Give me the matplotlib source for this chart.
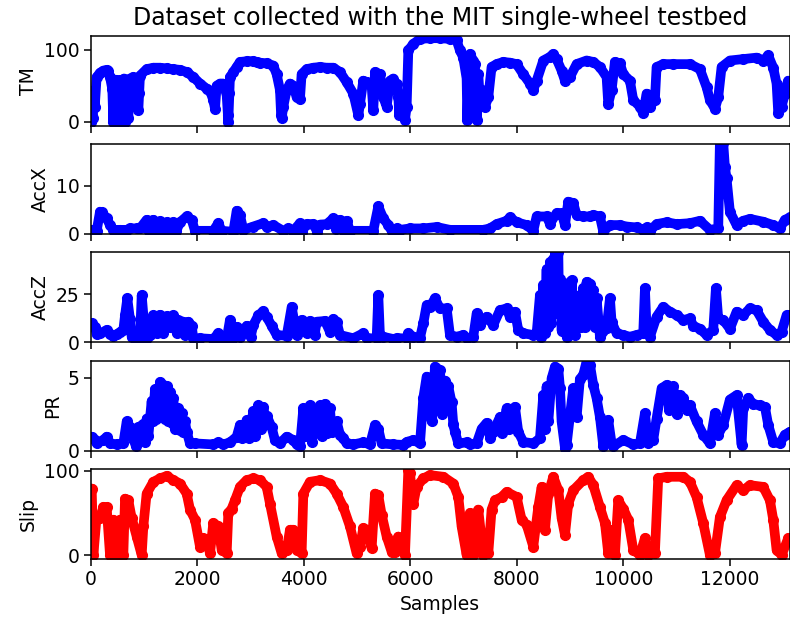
import matplotlib
matplotlib.use("Agg")
from matplotlib import pyplot as plt

tm_x = [0, 13, 30, 44, 70, 106, 169, 232, 294, 326, 357, 400, 419, 440, 470, 482, 510, 545, 576, 600, 620, 639,
        670, 700, 732, 795, 840, 858, 889, 905, 920, 1045, 1171, 1296, 1421, 1546, 1671, 1797, 1922, 2047, 2172,
        2235, 2297, 2329, 2360, 2423, 2485, 2548, 2570, 2579, 2600, 2610, 2673, 2736, 2798, 2923, 3049, 3111,
        3174, 3299, 3424, 3487, 3549, 3570, 3581, 3612, 3675, 3737, 3800, 3862, 3925, 3956, 4050, 4175, 4301,
        4426, 4551, 4676, 4801, 4927, 5021, 5052, 5114, 5177, 5271, 5302, 5334, 5427, 5490, 5553, 5615, 5678,
        5709, 5740, 5772, 5790, 5803, 5834, 5866, 5897, 5928, 5960, 6053, 6179, 6366, 6554, 6742, 6867, 6930,
        6992, 7055, 7068, 7090, 7118, 7180, 7211, 7243, 7274, 7305, 7337, 7399, 7462, 7524, 7618, 7743, 7869,
        7994, 8119, 8244, 8307, 8370, 8495, 8620, 8683, 8745, 8839, 8902, 8996, 9121, 9308, 9434, 9559, 9684,
        9715, 9778, 9840, 9934, 9997, 10122, 10185, 10310, 10372, 10435, 10498, 10591, 10623, 10748, 10936,
        11249, 11437, 11562, 11625, 11719, 11781, 11844, 12000, 12251, 12501, 12626, 12720, 12814, 12877,
        12908, 12971, 13033, 13096, 13127]
tm_y = [0, 40, 5, 43, 20, 62, 68, 71, 72, 70, 62, 45, 0, 55, 58, 0, 55, 58, 0, 50, 60, 0,
        58, 5, 60, 62, 55, 30, 16, 40, 64, 73, 75, 75, 74, 73, 72, 69, 62, 53, 46,
        43, 30, 18, 50, 53, 53, 37, 10, 0, 40, 62, 69, 76, 83, 84, 84, 83,
        82, 81, 78, 66, 44, 10, 5, 21, 44, 53, 50, 34, 32, 66, 73, 75, 76,
        75, 75, 69, 55, 39, 9, 25, 57, 55, 50, 16, 69, 66, 34, 21, 57, 60,
        45, 53, 34, 10, 30, 20, 14, 3, 20, 99, 108, 115, 116, 116, 115, 113, 99,
        89, 60, 2, 60, 94, 85, 80, 2, 66, 30, 44, 21, 34, 76, 80, 83, 82,
        80, 66, 53, 44, 57, 85, 90, 94, 87, 71, 57, 62, 80, 85, 83, 76, 62,
        25, 44, 83, 81, 66, 57, 30, 21, 12, 39, 21, 30, 76, 80, 80,
        80, 73, 48, 30, 18, 34, 76, 85, 87, 89, 85, 92, 75, 53,
        12, 21, 39, 57, 55]

accx_x = [13, 106, 169, 200, 232, 294, 357, 419, 545, 670, 732, 858, 920, 1045, 1080, 1171, 1200, 1296, 1340,
          1421, 1460, 1546, 1600, 1671, 1797, 1891, 1953, 2297, 2391, 2454, 2673, 2736, 2798, 2861, 3049, 3236,
          3300, 3424, 3612, 3706, 3800, 3925, 3960, 4050, 4175, 4250, 4301, 4426, 4551, 4600, 4676, 4740, 4801,
          4864, 5302, 5396, 5490, 5584, 5646, 5740, 5803, 5991, 6241, 6492, 6742, 7368, 7493, 7618, 7806, 7869,
          7994, 8182, 8307, 8370, 8557, 8620, 8745, 8839, 8902, 8964, 9058, 9121, 9246, 9371, 9434, 9559, 9622,
          9747, 9934, 10059, 10247, 10372, 10435, 10498, 10623, 10811, 10999, 11249, 11437, 11625, 11781, 11812,
          11875, 11906, 11937, 12000, 12126, 12251, 12376, 12626, 12814, 12939, 13033, 13127]
accx_y = [0.8, 0.6, 4.6, 4.5, 4.0, 3.2, 1.8, 0.8, 0.8, 0.8, 1.1, 1.1, 1.1, 2.9, 0.6, 2.9, 0.8, 2.6, 0.5,
          2.4, 0.8, 2.4, 0.5, 2.4, 3.6, 2.9, 0.6, 0.6, 2.2, 0.6, 0.4, 4.8, 3.9, 0.8, 1.5, 2.2,
          1.4, 1.8, 0.6, 1.1, 0.6, 2.2, 0.4, 2.0, 2.0, 0.4, 1.9, 2.0, 3.2, 1.0, 2.9, 0.8, 2.7,
          0.6, 0.6, 5.7, 3.2, 1.8, 0.6, 1.1, 0.8, 1.1, 1.1, 1.4, 0.8, 0.8, 1.1, 2.0, 2.7, 3.4,
          2.4, 1.8, 0.6, 3.6, 3.6, 2.1, 4.3, 4.3, 1.8, 6.7, 6.4, 3.9, 3.6, 3.6, 3.9, 3.6, 0.4,
          1.8, 1.8, 1.5, 1.3, 0.8, 1.3, 0.6, 2.0, 2.4, 2.0, 2.2, 2.7, 0.8, 1.1, 19,
          19, 14, 11.6, 4.6, 1.8, 2.7, 3.1, 2.5, 1.8, 1.1, 2.9, 3.4]

accz_x = [13, 75, 106, 169, 294, 357, 419, 482, 545, 607, 639, 682, 732, 764, 826, 920, 952, 995, 1045, 1077,
          1108, 1171, 1233, 1296, 1358, 1421, 1484, 1546, 1609, 1640, 1734, 1765, 1828, 1891, 1922, 2047, 2297,
          2391, 2454, 2548, 2610, 2673, 2736, 2800, 2923, 3000, 3049, 3143, 3236, 3299, 3393, 3487, 3675, 3769,
          3831, 3862, 3956, 4050, 4113, 4200, 4238, 4395, 4488, 4551, 4614, 4676, 4927, 5114, 5177, 5365, 5396,
          5427, 5490, 5678, 5740, 5928, 5960, 6053, 6179, 6241, 6304, 6366, 6460, 6554, 6680, 6742, 6867, 6992,
          7055, 7180, 7243, 7305, 7430, 7556, 7681, 7806, 7869, 7963, 8025, 8119, 8307, 8370, 8432, 8460, 8495,
          8520, 8557, 8580, 8620, 8640, 8683, 8700, 8714, 8740, 8777, 8790, 8808, 8840, 8870, 8933, 8996, 9010,
          9027, 9050, 9089, 9120, 9183, 9210, 9250, 9280, 9308, 9340, 9371, 9400, 9430, 9460, 9496, 9559, 9684,
          9747, 9778, 9872, 9997, 10122, 10247, 10372, 10404, 10435, 10498, 10623, 10748, 10873, 10999, 11123,
          11249, 11311, 11437, 11562, 11687, 11737, 11781, 11875, 12000, 12126, 12251, 12376, 12501, 12626,
          12752, 12877, 12971, 13065, 13127]
accz_y = [9.8, 8.1, 4.1, 4.6, 6.4, 4.1, 3.4, 4.1, 5.2, 6.4, 14, 22.8, 12, 2.9, 2.1, 2.1, 24.5, 10.3, 2.1, 10.7,
          4, 14, 5, 14.3, 5, 13.6, 8, 14, 5, 11.4, 10.7, 4, 10.7, 8.6, 2.1, 2.1, 1.7,
          4.7, 1.7, 1.7, 11.6, 2.1, 8.1, 3, 8.6, 3, 9, 14, 16.2, 13.3, 8.6, 3.8, 3.4, 18.4,
          8.6, 3.8, 11.6, 5, 11.1, 4, 10.7, 11.1, 5.5, 12.1, 10.7, 3.8, 2.1, 4.7, 2.1, 2.1, 24.5,
          3.8, 2.9, 1.7, 2.1, 2.1, 4.7, 2.9, 2.4, 9.8, 19.3, 18.4, 22.8, 17.6, 17.6, 3.8, 2.9, 3.8,
          2.1, 2.9, 15, 9, 13.3, 9, 16.7, 17.6, 13, 15.9, 6.4, 4.7, 3.8, 4.7, 24.5, 3, 30,
          5, 38, 8, 41.7, 10, 43.4, 20, 47, 15, 47, 20, 33, 6, 24.5, 3, 31.4, 10,
          32.2, 15, 3.8, 10, 24.5, 8, 28, 8, 31.4, 10, 30.5, 10, 27, 8, 22.8, 2.9, 7.4,
          22.8, 10.7, 4.7, 3.8, 2.9, 3.8, 4.7, 28, 7.4, 2.9, 13.3, 18.4, 15.9, 14.1, 11.6,
          12.4, 8.6, 7, 3.8, 6.4, 28, 12.4, 11.6, 7, 15.9, 14.1, 17.6, 16.7, 10.7,
          6.4, 3.8, 5.5, 14.1, 14.1]

pr_x = [13, 75, 106, 232, 294, 357, 482, 607, 670, 732, 795, 845, 889, 983, 1014, 1045, 1077, 1139, 1160, 1202,
        1230, 1296, 1320, 1358, 1390, 1421, 1450, 1484, 1515, 1546, 1580, 1640, 1670, 1703, 1734, 1765, 1797,
        1859, 1953, 2297, 2391, 2485, 2610, 2736, 2798, 2830, 2923, 2960, 3049, 3080, 3143, 3200, 3236, 3290,
        3299, 3393, 3456, 3549, 3675, 3800, 3862, 3925, 3988, 4020, 4113, 4150, 4207, 4269, 4301, 4330, 4395,
        4430, 4488, 4520, 4614, 4676, 4739, 4801, 4927, 5114, 5240, 5334, 5396, 5459, 5678, 5866, 5928, 6053,
        6179, 6241, 6304, 6366, 6398, 6429, 6460, 6554, 6600, 6648, 6711, 6773, 6805, 6836, 6899, 7055, 7118,
        7243, 7337, 7430, 7500, 7556, 7681, 7720, 7806, 7850, 7963, 8025, 8119, 8307, 8432, 8495, 8530, 8557,
        8590, 8651, 8714, 8777, 8808, 8839, 8902, 8933, 8996, 9058, 9121, 9183, 9246, 9308, 9371, 9434, 9496,
        9559, 9622, 9715, 9778, 9809, 9997, 10185, 10310, 10404, 10466, 10560, 10623, 10717, 10811, 10860,
        10936, 10999, 11061, 11123, 11186, 11249, 11374, 11499, 11625, 11719, 11781, 11875, 12000, 12126,
        12220, 12251, 12345, 12438, 12564, 12658, 12720, 12814, 12939, 13033, 13096, 13127]
pr_y = [0.96, 0.73, 0.5, 0.73, 0.96, 0.5, 0.43, 0.5, 2.0, 1.6, 0.8, 0.3, 1.6, 1.8, 0.6, 2.2, 1.0, 3.4, 2.0, 4.2,
        2.2, 4.7, 2.5, 4.5, 2.2, 4.4, 2.0, 4.0, 1.9, 3.6, 1.5, 2.9, 1.4, 2.6, 1.3, 2.0, 1.3,
        0.5, 0.5, 0.43, 0.57, 0.43, 0.57, 0.96, 1.76, 0.9, 2.1, 0.9, 2.7, 1.0, 3.1, 1.5, 3.0, 1.8,
        2.4, 1.6, 0.7, 0.5, 0.96, 0.73, 0.43, 0.3, 2.9, 1.0, 3.1, 0.6, 2.7, 2.0, 3.1, 1.0, 3.2,
        1.2, 2.9, 1.3, 2.0, 1.1, 0.85, 0.5, 0.43, 0.57, 0.43, 1.76, 1.5, 0.5, 0.43, 0.4, 0.6, 0.73,
        0.5, 3.6, 5.07, 4.7, 2.0, 3.6, 5.75, 5.5, 2.5, 4.8, 4.4, 3.3, 1.8, 1.3, 0.5, 0.57, 0.43,
        0.5, 1.5, 1.9, 0.9, 1.3, 2.3, 1.2, 2.9, 1.5, 3.0, 1.3, 0.6, 0.5, 0.85, 3.8, 1.5, 4.4,
        2.0, 4.95, 5.75, 5.6, 4.3, 2.0, 0.2, 0.4, 2.4, 4.27, 2.3, 4.9, 5.2, 6.1, 5.9, 4.5, 3.6,
        2.3, 0.3, 2.1, 0.5, 0.3, 0.73, 0.43, 0.5, 2.56, 0.5, 0.73, 2.2, 4.27, 4.5, 2.8,
        4.4, 2.5, 3.8, 3.6, 2.8, 3.1, 2.0, 1.1, 0.5, 2.56, 1.1, 1.76, 3.5, 3.8,
        0.4, 2.9, 3.6, 3.2, 3.1, 3.0, 1.76, 0.6, 0.5, 1.1, 1.2, 1.3]

slip_x = [0, 13, 44, 106, 169, 232, 294, 357, 419, 482, 545, 607, 639, 701, 764, 858, 952, 983, 1045, 1171,
          1296, 1421, 1546, 1671, 1797, 1859, 1953, 2047, 2110, 2172, 2235, 2297, 2391, 2454, 2548, 2579, 2642,
          2704, 2798, 2923, 3049, 3174, 3299, 3362, 3487, 3581, 3675, 3737, 3800, 3862, 3956, 3988, 4113, 4301,
          4488, 4614, 4739, 4864, 4989, 5052, 5114, 5177, 5271, 5334, 5396, 5459, 5553, 5646, 5709, 5740, 5772,
          5834, 5897, 5960, 5991, 6053, 6116, 6241, 6366, 6617, 6805, 6899, 6961, 7055, 7118, 7180, 7274, 7368,
          7462, 7524, 7587, 7712, 7806, 7994, 8088, 8182, 8307, 8401, 8464, 8526, 8589, 8683, 8777, 8839, 8902,
          8964, 9058, 9246, 9340, 9434, 9559, 9653, 9715, 9778, 9840, 9903, 9997, 10091, 10185, 10310, 10404,
          10466, 10591, 10654, 10811, 11123, 11249, 11374, 11499, 11625, 11719, 11812, 11937, 12126, 12251,
          12376, 12626, 12752, 12814, 12877, 12971, 13096, 13127]
slip_y = [79, 79, 0, 46, 44, 57, 57, 0, 42, 0, 42, 0, 67, 65, 44, 22, 0, 34, 73, 87,
          91, 94, 89, 85, 73, 54, 42, 10, 20, 18, 2, 38, 34, 6, 2, 50, 55,
          65, 81, 89, 91, 89, 81, 61, 22, 2, 6, 30, 30, 6, 2, 73, 87, 89,
          85, 73, 57, 34, 2, 10, 32, 30, 8, 73, 71, 48, 22, 4, 4, 14, 22,
          20, 0, 101, 97, 61, 81, 91, 95, 93, 85, 69, 34, 0, 50, 0, 54, 0,
          2, 54, 65, 69, 75, 69, 42, 36, 10, 57, 81, 30, 73, 93, 77, 44, 24,
          61, 77, 89, 93, 83, 57, 38, 2, 30, 0, 65, 55, 42, 6, 0, 20,
          0, 2, 91, 93, 93, 87, 69, 38, 0, 2, 45, 65, 83, 77,
          83, 81, 65, 42, 6, 0, 20, 20]

panels = [
    ("TM", tm_x, tm_y, "b", (-5.5, 119.3), [0, 100]),
    ("AccX", accx_x, accx_y, "b", (0, 18.8), [0, 10]),
    ("AccZ", accz_x, accz_y, "b", (0, 46.7), [0, 25]),
    ("PR", pr_x, pr_y, "b", (0, 6.15), [0, 5]),
    ("Slip", slip_x, slip_y, "r", (-4.4, 102.4), [0, 100]),
]

plt.rcParams["font.size"] = 13.5
plt.rcParams["axes.linewidth"] = 1.1
plt.rcParams["xtick.major.width"] = 1.1
plt.rcParams["ytick.major.width"] = 1.1
plt.rcParams["xtick.major.size"] = 4.9
plt.rcParams["ytick.major.size"] = 4.9

fig = plt.figure(figsize=(7.9, 6.24), dpi=100)
bottoms = [0.7986, 0.6255, 0.4514, 0.2777, 0.1046]
axes = []
for (name, xs, ys, col, lim, ticks), b in zip(panels, bottoms):
    ax = fig.add_axes([0.1152, b, 0.8842, 0.1440])
    ax.plot(xs, ys, "o-", color=col, ms=7, lw=7, solid_joinstyle="round", solid_capstyle="round")
    ax.set_xlim(0, 13120)
    ax.set_ylim(*lim)
    ax.set_yticks(ticks)
    ax.set_ylabel(name)
    ax.set_xticks(range(0, 13000, 2000))
    if name != "Slip":
        ax.set_xticklabels([])
    axes.append(ax)

axes[0].set_title("Dataset collected with the MIT single-wheel testbed", fontsize=17, pad=8)
axes[-1].set_xlabel("Samples")
fig.savefig("out.png", dpi=100)
